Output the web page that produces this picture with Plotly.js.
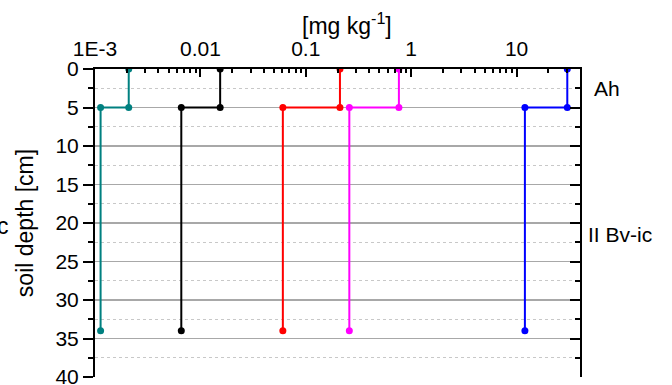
<!DOCTYPE html>
<html>
<head>
<meta charset="utf-8">
<script src="https://cdn.plot.ly/plotly-3.0.1.min.js"></script>
<style>html,body{margin:0;padding:0;background:#fff;}#chart{width:672px;height:385px;}</style>
</head>
<body>
<div id="chart"></div>
<script>
// depth points of each profile [cm]
const depth = [0, 5, 5, 34];
// concentrations [mg kg-1] at those depths (Ah horizon value, II Bv-ic value)
const tealVals    = [0.00209, 0.00209, 0.00113, 0.00113];
const blackVals   = [0.0154, 0.0154, 0.00659, 0.00659];
const redVals     = [0.211, 0.211, 0.0606, 0.0606];
const magentaVals = [0.765, 0.765, 0.259, 0.259];
const blueVals    = [30.3, 30.3, 12.0, 12.0];
const seriesColors = ['#008080', '#000000', '#ff0000', '#ff00ff', '#0000ff'];
const xTickVals = [0.001, 0.01, 0.1, 1, 10];
const xTickText = ['1E-3', '0.01', '0.1', '1', '10'];
const yTickVals = [0, 5, 10, 15, 20, 25, 30, 35, 40];
const horizonNames = ['Ah', 'II Bv-ic'];
const horizonLabelDepth = [2.5, 21.5];

const allVals = [tealVals, blackVals, redVals, magentaVals, blueVals];
const traces = allVals.map((v, i) => ({
  x: v, y: depth, type: 'scatter', mode: 'lines+markers',
  line: {color: seriesColors[i], width: 2},
  marker: {color: seriesColors[i], size: 7},
  yaxis: i === 4 ? 'y2' : 'y',
  showlegend: false, hoverinfo: 'skip'
}));

const minorX = [];
for (let e = -3; e <= 1; e++) {
  for (let d = 2; d <= 9; d++) {
    const v = d * Math.pow(10, e);
    if (v <= 40) minorX.push(v);
  }
}
const minorY = [];
for (let k = 0; k < yTickVals.length - 1; k++) minorY.push(yTickVals[k] + 2.5);

const fam = 'Liberation Sans, Arial, sans-serif';
const font = {family: fam, size: 21, color: '#000'};
const titleFont = {family: fam, size: 23, color: '#000'};
const yRange = [40, 0];

const layout = {
  width: 672, height: 385,
  margin: {l: 95, r: 92, t: 69, b: 8, pad: 0},
  paper_bgcolor: '#fff', plot_bgcolor: '#fff',
  font: font,
  showlegend: false,
  xaxis: {
    type: 'log', side: 'top', range: [-3, Math.log10(40)],
    tickvals: xTickVals, ticktext: xTickText,
    ticks: 'inside', ticklen: 8, tickwidth: 2, tickcolor: '#000',
    ticklabelstandoff: 3, ticklabeloverflow: 'allow',
    showline: true, linecolor: '#000', linewidth: 2,
    showgrid: false, zeroline: false,
    tickfont: font,
    minor: {tickvals: minorX, ticks: 'inside', ticklen: 4, tickwidth: 2, tickcolor: '#000', showgrid: false}
  },
  yaxis: {
    range: yRange, tickmode: 'array', tickvals: yTickVals,
    ticks: 'outside', ticklen: 10, tickwidth: 2, tickcolor: '#000',
    ticklabeloverflow: 'allow',
    showline: true, linecolor: '#000', linewidth: 2,
    showgrid: true, gridcolor: '#a8a8a8', gridwidth: 1.5,
    zeroline: false,
    tickfont: font,
    title: {text: 'soil depth [cm]', font: titleFont, standoff: 15},
    minor: {tickvals: minorY, ticks: 'outside', ticklen: 5, tickwidth: 2, tickcolor: '#000',
            showgrid: true, gridcolor: '#c8c8c8', griddash: 'dot', gridwidth: 1}
  },
  yaxis2: {
    range: yRange, tickmode: 'array', tickvals: yTickVals, overlaying: 'y', side: 'right', anchor: 'x',
    ticks: 'inside', ticklen: 10, tickwidth: 2, tickcolor: '#000',
    showticklabels: false,
    showline: true, linecolor: '#000', linewidth: 2,
    showgrid: false, zeroline: false,
    minor: {tickvals: minorY, ticks: 'inside', ticklen: 5, tickwidth: 2, tickcolor: '#000', showgrid: false}
  },
  annotations: [
    {text: '[mg kg<sup>-1</sup>]', xref: 'paper', yref: 'paper', x: 0.52, y: 1.145,
     xanchor: 'center', yanchor: 'middle', showarrow: false, font: titleFont},
    {text: horizonNames[0], xref: 'paper', yref: 'y', x: 1.024, y: horizonLabelDepth[0],
     xanchor: 'left', yanchor: 'middle', showarrow: false, font: font},
    {text: horizonNames[1], xref: 'paper', yref: 'y', x: 1.012, y: horizonLabelDepth[1],
     xanchor: 'left', yanchor: 'middle', showarrow: false, font: font},
    {text: 'c', xref: 'paper', yref: 'paper', x: -0.19, y: 0.49,
     xanchor: 'center', yanchor: 'middle', showarrow: false, font: titleFont}
  ]
};

Plotly.newPlot('chart', traces, layout, {staticPlot: true, displayModeBar: false});
</script>
</body>
</html>
